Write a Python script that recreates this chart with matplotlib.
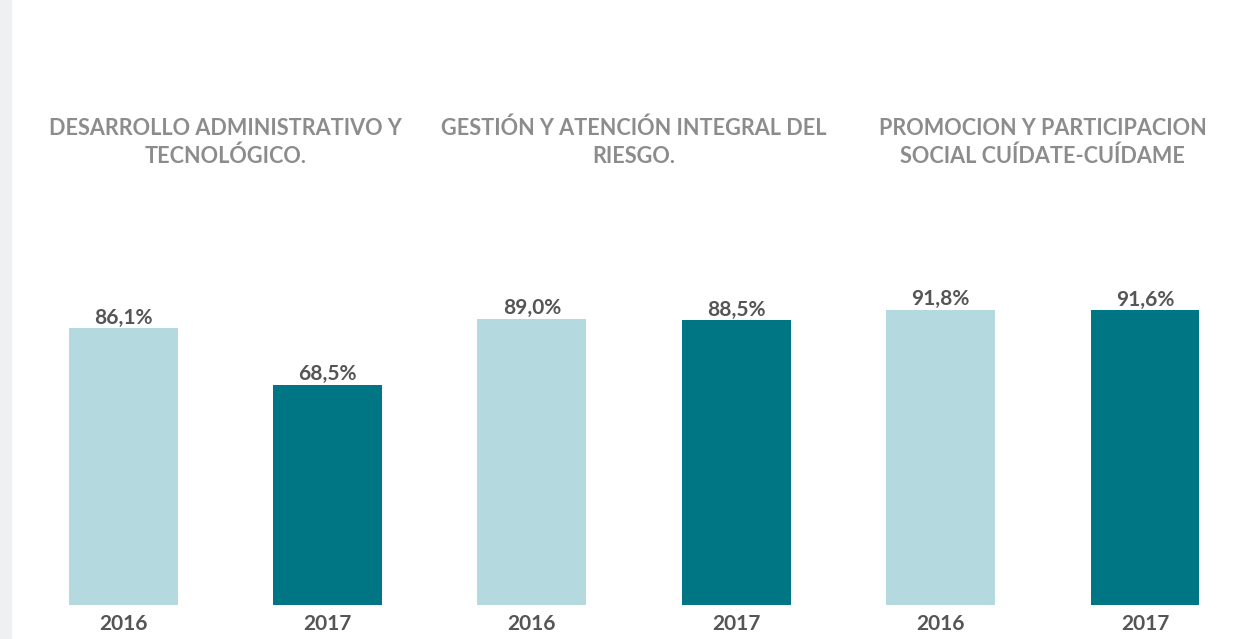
import matplotlib.pyplot as plt
from matplotlib.patches import Rectangle

groups = [
    "DESARROLLO ADMINISTRATIVO Y\nTECNOLÓGICO.",
    "GESTIÓN Y ATENCIÓN INTEGRAL DEL\nRIESGO.",
    "PROMOCION Y PARTICIPACION\nSOCIAL CUÍDATE-CUÍDAME",
]
years = ["2016", "2017"]
values_2016 = [86.1, 89.0, 91.8]
values_2017 = [68.5, 88.5, 91.6]

c_2016 = "#b4dadf"
c_2017 = "#007584"
txt_dark = "#555555"
txt_title = "#8c8c8c"

plt.rcParams["font.family"] = ["Lato", "DejaVu Sans"]

fig = plt.figure(figsize=(12.47, 6.39), dpi=100)
ax = fig.add_axes([0, 0, 1, 1])
ax.set_xlim(-0.602, 5.499)
ax.set_ylim(-10.57, 188.06)
ax.axis("off")

# light strip on the left edge
fig.patches.append(Rectangle((0, 0), 11 / 1247, 1, transform=fig.transFigure,
                             color="#eff0f2", zorder=0))

width = 0.533
for i, name in enumerate(groups):
    x0, x1 = 2 * i, 2 * i + 1
    for x, v, c, yr in [(x0, values_2016[i], c_2016, years[0]),
                        (x1, values_2017[i], c_2017, years[1])]:
        ax.bar(x, v, width=width, color=c, zorder=2)
        lbl = f"{v:.1f}%".replace(".", ",")
        ax.text(x, v + 0.1, lbl, ha="center", va="bottom", fontsize=15,
                fontweight="bold", color=txt_dark)
        ax.text(x, -2.8, yr, ha="center", va="top", fontsize=15,
                fontweight="bold", color=txt_dark)
    ax.text((x0 + x1) / 2, 143.8, name, ha="center", va="center",
            fontsize=15.6, fontweight="bold", color=txt_title, linespacing=1.4)

fig.savefig("out.png", dpi=100)
